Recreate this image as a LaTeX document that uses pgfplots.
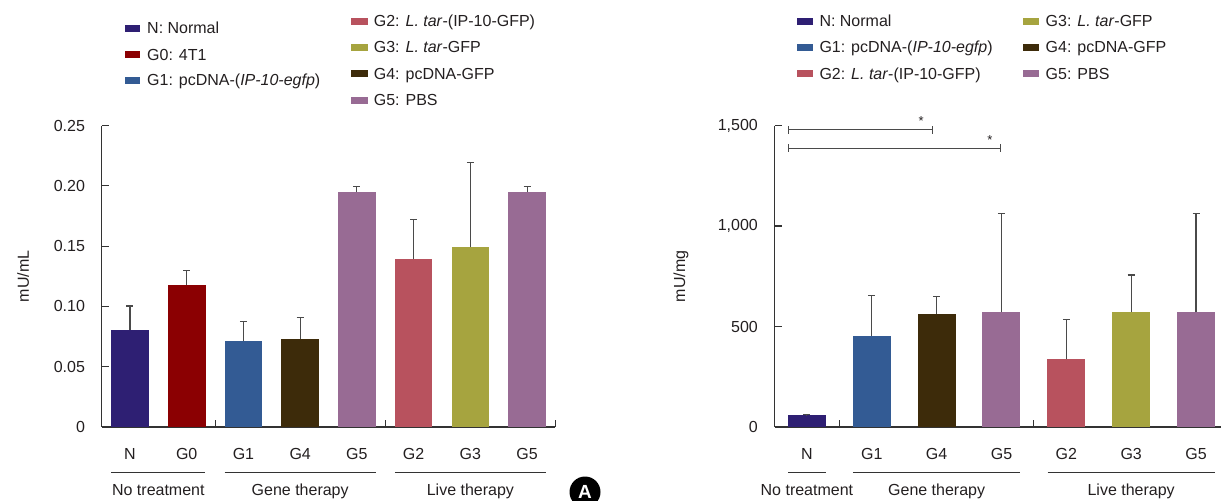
\documentclass[border=0pt]{standalone}
\usepackage{fontspec}
\setmainfont{Liberation Sans}
\usepackage{pgfplots}
\pgfplotsset{compat=1.18}

\definecolor{txt}{HTML}{231F20}
\definecolor{axc}{HTML}{333333}
\definecolor{errc}{HTML}{4A4A4A}
\definecolor{cN}{HTML}{2E1F73}
\definecolor{cG0}{HTML}{8B0002}
\definecolor{cG1}{HTML}{335B94}
\definecolor{cG2}{HTML}{B8525E}
\definecolor{cG3}{HTML}{A6A43F}
\definecolor{cG4}{HTML}{3D2B0A}
\definecolor{cG5}{HTML}{986B94}

\pgfplotsset{
  panel/.style={
    scale only axis, clip=false, ymin=0,
    axis x line*=bottom, axis y line*=left,
    axis line style={draw=axc, line width=1.1bp},
    tick align=inside, major tick length=7bp,
    ytick style={draw=axc, line width=1.1bp},
    xtick style={draw=none},
    extra x tick style={xtick style={draw=axc, line width=1.1bp}},
    yticklabel style={anchor=east, inner sep=0pt, xshift=-16.5bp},
    xticklabel style={anchor=base, inner sep=0pt, yshift=-32.7bp},
    ylabel style={anchor=center},
    every tick label/.append style={font=\fontsize{16bp}{18bp}\selectfont, text=txt},
    label style={font=\fontsize{16bp}{18bp}\selectfont, text=txt},
  },
  gbar/.style={ybar, fill=#1, draw=none,
    error bars/.cd, y dir=plus, y explicit, error mark=-,
    error bar style={draw=errc, line width=1.1bp},
    error mark options={rotate=90, draw=errc, line width=1.1bp, mark size=3.5bp}},
}

\begin{document}
\begin{tikzpicture}[font=\fontsize{16bp}{18bp}\selectfont, text=txt]
\path[use as bounding box] (0,0) rectangle (1221bp,-501bp);

% legend, left panel
\foreach \y/\c/\t in {28.3/cN/{N: Normal}, 54.5/cG0/{G0: 4T1}, 80/cG1/{G1: pcDNA-(\textit{IP-10-egfp})}}{
  \fill[\c] (124.5bp,-\y bp+3.5bp) rectangle (140bp,-\y bp-3.5bp);
  \node[anchor=base west, inner sep=0pt] at (147bp,-\y bp-5.6bp) {\t};
}
\foreach \y/\c/\t in {21/cG2/{G2: \textit{L. tar}-(IP-10-GFP)}, 47.3/cG3/{G3: \textit{L. tar}-GFP}, 73.6/cG4/{G4: pcDNA-GFP}, 100/cG5/{G5: PBS}}{
  \fill[\c] (351bp,-\y bp+3.5bp) rectangle (367.5bp,-\y bp-3.5bp);
  \node[anchor=base west, inner sep=0pt] at (373.7bp,-\y bp-5.6bp) {\t};
}
% legend, right panel
\foreach \y/\c/\t in {21/cN/{N: Normal}, 47.3/cG1/{G1: pcDNA-(\textit{IP-10-egfp})}, 73.6/cG2/{G2: \textit{L. tar}-(IP-10-GFP)}}{
  \fill[\c] (797bp,-\y bp+3.5bp) rectangle (812.8bp,-\y bp-3.5bp);
  \node[anchor=base west, inner sep=0pt] at (819.3bp,-\y bp-5.6bp) {\t};
}
\foreach \y/\c/\t in {21/cG3/{G3: \textit{L. tar}-GFP}, 47.3/cG4/{G4: pcDNA-GFP}, 73.6/cG5/{G5: PBS}}{
  \fill[\c] (1023bp,-\y bp+3.5bp) rectangle (1039bp,-\y bp-3.5bp);
  \node[anchor=base west, inner sep=0pt] at (1045.5bp,-\y bp-5.6bp) {\t};
}

% left panel: mU/mL
\begin{axis}[panel, at={(101.6bp,-427bp)}, anchor=south west,
  width=453.9bp, height=301.5bp,
  xmin=-0.5, xmax=7.5, ymax=0.25,
  ytick={0,0.05,0.1,0.15,0.2,0.25},
  yticklabels={0,0.05,0.10,0.15,0.20,0.25},
  xtick={0,1,2,3,4,5,6,7},
  xticklabels={N,G0,G1,G4,G5,G2,G3,G5},
  extra x ticks={1.5,4.5,7.5}, extra x tick labels={{},{},{}},
  bar width=0.663,
  ylabel={mU/mL}, ylabel style={at={(rel axis cs:-0.173,0.5)}},
]
\addplot[gbar=cN]  coordinates {(0,0.0801) +- (0,0.0202)};
\addplot[gbar=cG0] coordinates {(1,0.1174) +- (0,0.0122)};
\addplot[gbar=cG1] coordinates {(2,0.0710) +- (0,0.0163)};
\addplot[gbar=cG4] coordinates {(3,0.0727) +- (0,0.0182)};
\addplot[gbar=cG5] coordinates {(4,0.1945) +- (0,0.0052)};
\addplot[gbar=cG2] coordinates {(5,0.1390) +- (0,0.0334)};
\addplot[gbar=cG3] coordinates {(6,0.1489) +- (0,0.0707)};
\addplot[gbar=cG5] coordinates {(7,0.1945) +- (0,0.0052)};
\draw[axc, line width=1bp] ([yshift=-45bp]axis cs:-0.33,0) -- ([yshift=-45bp]axis cs:1.33,0);
\draw[axc, line width=1bp] ([yshift=-45bp]axis cs:1.67,0) -- ([yshift=-45bp]axis cs:4.33,0);
\draw[axc, line width=1bp] ([yshift=-45bp]axis cs:4.67,0) -- ([yshift=-45bp]axis cs:7.33,0);
\node[anchor=base] at ([yshift=-68.5bp]axis cs:0.5,0) {No treatment};
\node[anchor=base] at ([yshift=-68.5bp]axis cs:3,0) {Gene therapy};
\node[anchor=base] at ([yshift=-68.5bp]axis cs:6,0) {Live therapy};
\end{axis}

% panel label
\node[circle, fill=black, text=white, inner sep=0pt, minimum size=31bp,
  font=\fontsize{19bp}{20bp}\selectfont\bfseries] at (585bp,-492bp) {A};

% right panel: mU/mg
\begin{axis}[panel, at={(774.5bp,-427bp)}, anchor=south west,
  width=453.95bp, height=301.5bp,
  xmin=-0.5, xmax=6.5, ymax=1500,
  ytick={0,500,1000,1500},
  yticklabels={0,500,{1,000},{1,500}},
  xtick={0,1,2,3,4,5,6},
  xticklabels={N,G1,G4,G5,G2,G3,G5},
  extra x ticks={0.5,3.5}, extra x tick labels={{},{}},
  bar width=0.586,
  ylabel={mU/mg}, ylabel style={at={(rel axis cs:-0.206,0.5)}},
]
\addplot[gbar=cN]  coordinates {(0,58)  +- (0,3)};
\addplot[gbar=cG1] coordinates {(1,454) +- (0,201)};
\addplot[gbar=cG4] coordinates {(2,560) +- (0,91)};
\addplot[gbar=cG5] coordinates {(3,570) +- (0,494)};
\addplot[gbar=cG2] coordinates {(4,336) +- (0,201)};
\addplot[gbar=cG3] coordinates {(5,570) +- (0,186)};
\addplot[gbar=cG5] coordinates {(6,570) +- (0,494)};
\draw[axc, line width=1bp] ([yshift=-45bp]axis cs:-0.29,0) -- ([yshift=-45bp]axis cs:0.29,0);
\draw[axc, line width=1bp] ([yshift=-45bp]axis cs:0.71,0) -- ([yshift=-45bp]axis cs:3.29,0);
\draw[axc, line width=1bp] ([yshift=-45bp]axis cs:3.71,0) -- ([yshift=-45bp]axis cs:6.29,0);
\node[anchor=base] at ([yshift=-68.5bp]axis cs:0,0) {No treatment};
\node[anchor=base] at ([yshift=-68.5bp]axis cs:2,0) {Gene therapy};
\node[anchor=base] at ([yshift=-68.5bp]axis cs:5,0) {Live therapy};
% significance brackets
\draw[errc, line width=1bp, |-|] (axis cs:-0.29,1480) -- (axis cs:1.94,1480);
\draw[errc, line width=1bp, |-|] (axis cs:-0.29,1387) -- (axis cs:2.99,1387);
\node[font=\fontsize{13bp}{14bp}\selectfont, inner sep=0pt] at (axis cs:1.76,1522) {*};
\node[font=\fontsize{13bp}{14bp}\selectfont, inner sep=0pt] at (axis cs:2.82,1428) {*};
\end{axis}
\end{tikzpicture}
\end{document}
